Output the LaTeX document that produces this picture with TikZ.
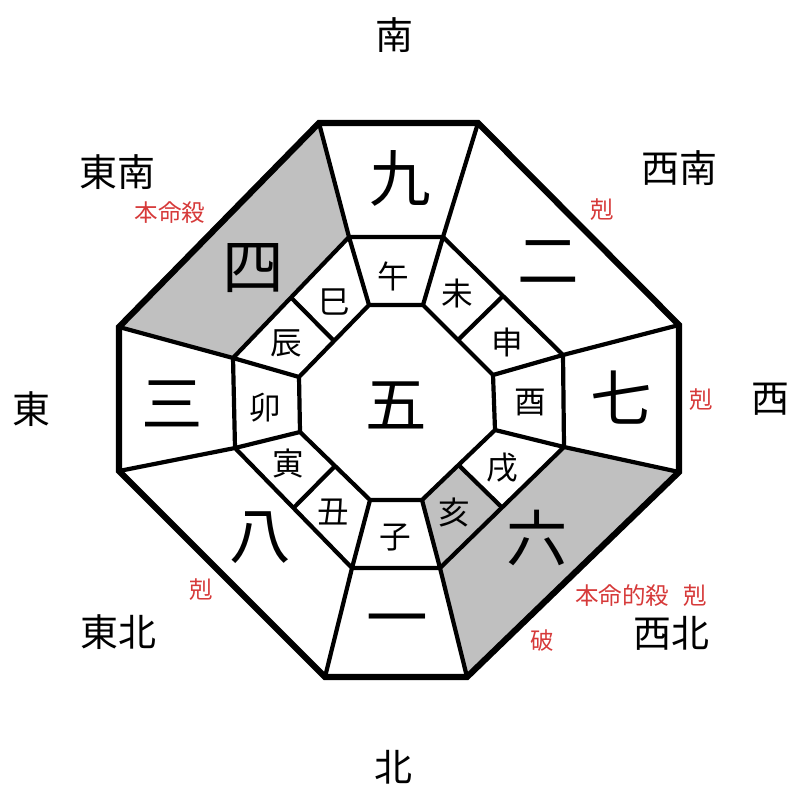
\documentclass[tikz,border=0pt]{standalone}
\usepackage{fontspec}
\setmainfont{Noto Sans CJK JP}
\usetikzlibrary{calc}
\definecolor{kbred}{RGB}{214,58,58}
\definecolor{kbgray}{RGB}{192,192,192}

\begin{document}
\begin{tikzpicture}[
  x=0.1mm,y=-0.1mm,
  thickline/.style={line width=0.62mm},
  thinline/.style={line width=0.42mm},
  shaded/.style={fill=kbgray},
  num/.style={font=\fontsize{17.5}{18}\selectfont,inner sep=0pt},
  branch/.style={font=\fontsize{9}{10}\selectfont,inner sep=0pt},
  dir/.style={font=\fontsize{10.8}{12}\selectfont,inner sep=0pt},
  note/.style={font=\fontsize{6.7}{8}\selectfont,text=kbred,inner sep=0pt}
]
  \useasboundingbox (0,0) rectangle (800,800);

  \foreach \n/\x/\y in {1/319/123,2/478/123,3/679/325,4/679/472,
    5/467/677,6/325/677,7/119/471,8/119/327}
    \coordinate (o\n) at (\x,\y);
  \foreach \n/\x/\y in {1/349/237,2/443/237,3/563/355,4/564/447,
    5/440/568,6/352/568,7/235/448,8/233/358}
    \coordinate (m\n) at (\x,\y);
  \foreach \n/\x/\y in {1/369/305,2/423/305,3/493/375,4/495/430,
    5/422/500,6/370/500,7/300/432,8/299/377}
    \coordinate (i\n) at (\x,\y);
  \foreach \a/\b in {2/3,4/5,6/7,8/1} {
    \coordinate (mm\a) at ($(m\a)!0.5!(m\b)$);
    \coordinate (im\a) at ($(i\a)!0.5!(i\b)$);
  }

  \fill[shaded] (o8) -- (o1) -- (m1) -- (m8) -- cycle;
  \fill[shaded] (o4) -- (o5) -- (m5) -- (m4) -- cycle;
  \fill[shaded] (i5) -- (m5) -- (mm4) -- (im4) -- cycle;

  \draw[thinline] (m1) -- (m2) -- (m3) -- (m4) -- (m5) -- (m6) -- (m7) -- (m8) -- cycle;
  \draw[thinline] (i1) -- (i2) -- (i3) -- (i4) -- (i5) -- (i6) -- (i7) -- (i8) -- cycle;
  \foreach \k in {1,...,8}
    \draw[thinline] (i\k) -- (m\k) -- (o\k);
  \foreach \a in {2,4,6,8}
    \draw[thinline] (mm\a) -- (im\a);
  \draw[thickline] (o1) -- (o2) -- (o3) -- (o4) -- (o5) -- (o6) -- (o7) -- (o8) -- cycle;

  \node[num] (n9) at (400,178) {九};
  \node[num] (n2) at (548,262) {二};
  \node[num] (n7) at (621,398) {七};
  \node[num] (n6) at (537,538) {六};
  \node[num] (n1) at (397,627) {一};
  \node[num] (n8) at (260,538) {八};
  \node[num] (n3) at (172,404) {三};
  \node[num] (n4) at (253,268) {四};
  \node[num] (n5) at (396,405) {五};

  \node[branch] (bwu) at (393,276) {午};
  \node[branch] (bwei) at (457,294) {未};
  \node[branch] (bshen) at (507,342) {申};
  \node[branch] (byou) at (530,402) {酉};
  \node[branch] (bxu) at (502,468) {戌};
  \node[branch] (bhai) at (454,512) {亥};
  \node[branch] (bzi) at (395,538) {子};
  \node[branch] (bchou) at (333,512) {丑};
  \node[branch] (byin) at (288,464) {寅};
  \node[branch] (bmao) at (265,408) {卯};
  \node[branch] (bchen) at (286,343) {辰};
  \node[branch] (bsi) at (334,302) {巳};

  \node[dir] (dS) at (394,35) {南};
  \node[dir] (dSE) at (117,172) {東南};
  \node[dir] (dSW) at (679,168) {西南};
  \node[dir] (dE) at (31,409) {東};
  \node[dir] (dW) at (770,399) {西};
  \node[dir] (dNE) at (118,632) {東北};
  \node[dir] (dNW) at (671,633) {西北};
  \node[dir] (dN) at (393,767) {北};

  \node[note] (noteSE) at (170,213) {本命殺};
  \node[note] (noteSW) at (602,210) {剋};
  \node[note] (noteW) at (701,400) {剋};
  \node[note] (noteNE) at (201,590) {剋};
  \node[note] (noteNW) at (641,596) {本命的殺\hspace{0.6em}剋};
  \node[note] (notePo) at (542,641) {破};
\end{tikzpicture}
\end{document}
